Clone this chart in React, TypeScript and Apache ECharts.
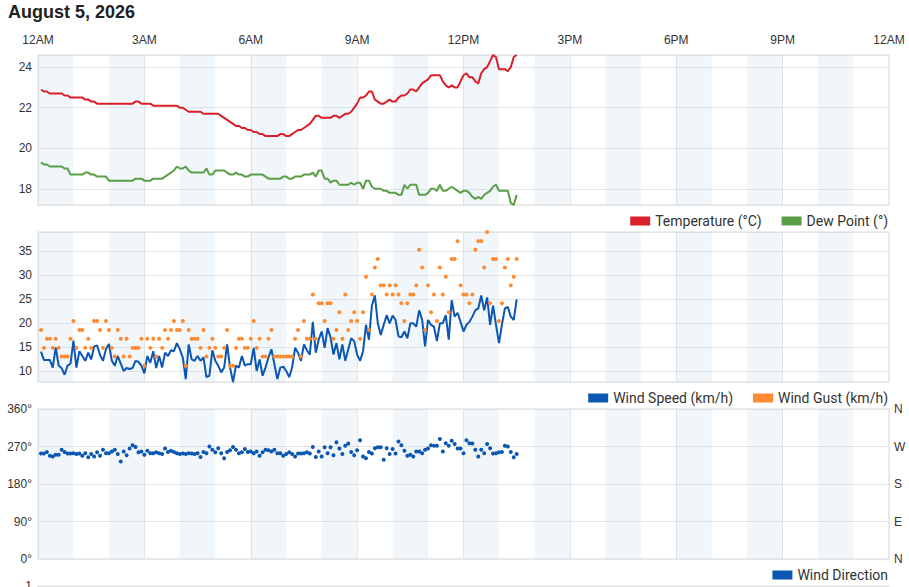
import { useEffect, useRef } from "react";
import * as echarts from "echarts";

const TITLE = "August 5, 2026";
const HOUR_LABELS = ["12AM", "3AM", "6AM", "9AM", "12PM", "3PM", "6PM", "9PM", "12AM"];
const SHADED_HOURS = [0, 2, 4, 6, 8, 10, 12, 14, 16, 18, 20, 22];
const FIRST_SAMPLE_MIN = 5;
const SAMPLE_STEP_MIN = 5;
const COMPASS_TICKS = [0, 90, 180, 270, 360];
const COMPASS_LABELS = ["N", "E", "S", "W", "N"];

const TEMPERATURE = [
  22.9, 22.8, 22.8, 22.7, 22.7, 22.7, 22.7, 22.7, 22.6, 22.6,
  22.5, 22.5, 22.5, 22.5, 22.5, 22.4, 22.4, 22.3, 22.3, 22.2,
  22.2, 22.2, 22.2, 22.2, 22.2, 22.2, 22.2, 22.2, 22.2, 22.2,
  22.2, 22.2, 22.3, 22.3, 22.2, 22.2, 22.2, 22.2, 22.1, 22.1,
  22.1, 22.1, 22.1, 22.1, 22.1, 22.1, 22.1, 22.0, 22.0, 21.9,
  21.8, 21.8, 21.8, 21.8, 21.8, 21.7, 21.7, 21.7, 21.7, 21.7,
  21.7, 21.6, 21.5, 21.4, 21.3, 21.2, 21.1, 21.1, 21.0, 21.0,
  20.9, 20.9, 20.8, 20.8, 20.7, 20.7, 20.6, 20.6, 20.6, 20.6,
  20.6, 20.7, 20.7, 20.6, 20.6, 20.7, 20.8, 20.9, 20.9, 21.0,
  21.1, 21.2, 21.4, 21.6, 21.6, 21.5, 21.5, 21.5, 21.5, 21.6,
  21.6, 21.5, 21.6, 21.7, 21.7, 21.8, 22.0, 22.2, 22.5, 22.5,
  22.6, 22.8, 22.8, 22.4, 22.3, 22.2, 22.2, 22.3, 22.4, 22.3,
  22.3, 22.5, 22.6, 22.6, 22.7, 22.9, 22.9, 22.8, 23.0, 23.2,
  23.3, 23.4, 23.6, 23.6, 23.6, 23.6, 23.3, 23.1, 23.0, 23.1,
  23.0, 23.0, 23.3, 23.6, 23.7, 23.5, 23.5, 23.3, 23.2, 23.7,
  23.9, 24.0, 24.3, 24.6, 24.5, 23.9, 23.9, 23.9, 23.8, 24.0,
  24.5, 24.6,
];

const DEW_POINT = [
  19.3, 19.2, 19.2, 19.1, 19.1, 19.1, 19.1, 19.1, 19.0, 19.0,
  18.7, 18.7, 18.7, 18.7, 18.7, 18.8, 18.8, 18.7, 18.7, 18.6,
  18.6, 18.6, 18.6, 18.4, 18.4, 18.4, 18.4, 18.4, 18.4, 18.4,
  18.4, 18.4, 18.5, 18.5, 18.5, 18.4, 18.4, 18.4, 18.5, 18.5,
  18.5, 18.5, 18.6, 18.7, 18.8, 18.9, 19.1, 19.0, 19.0, 19.1,
  18.9, 18.8, 18.8, 18.8, 18.8, 18.8, 19.0, 18.7, 18.7, 18.9,
  18.9, 18.9, 18.9, 18.8, 18.7, 18.7, 18.8, 18.7, 18.7, 18.6,
  18.6, 18.7, 18.7, 18.7, 18.7, 18.7, 18.6, 18.5, 18.5, 18.5,
  18.5, 18.5, 18.6, 18.6, 18.5, 18.5, 18.6, 18.6, 18.6, 18.7,
  18.7, 18.7, 18.8, 18.6, 18.9, 18.9, 18.5, 18.5, 18.3, 18.4,
  18.4, 18.2, 18.2, 18.2, 18.2, 18.3, 18.2, 18.3, 18.3, 18.0,
  18.4, 18.4, 18.1, 18.0, 18.0, 18.0, 17.9, 17.9, 17.8, 17.8,
  17.8, 17.7, 17.7, 18.2, 18.0, 18.2, 18.2, 18.2, 17.7, 17.7,
  17.7, 17.8, 18.0, 18.0, 17.9, 18.2, 17.9, 17.9, 18.0, 18.1,
  18.0, 17.9, 17.8, 17.9, 17.9, 17.8, 17.6, 17.5, 17.6, 17.5,
  17.7, 17.8, 17.9, 18.1, 18.2, 17.9, 17.9, 17.9, 17.9, 17.3,
  17.2, 17.7,
];

const WIND_SPEED = [
  14.0, 12.3, 12.3, 12.3, 10.7, 14.9, 11.1, 10.6, 9.2, 11.1,
  11.5, 16.3, 10.7, 14.1, 13.1, 12.1, 13.8, 12.4, 15.1, 15.3,
  13.3, 12.1, 14.5, 15.6, 12.1, 11.1, 13.1, 11.5, 10.0, 10.6,
  10.4, 10.6, 12.1, 11.9, 11.1, 9.5, 13.1, 11.7, 14.1, 10.6,
  13.1, 10.7, 13.8, 13.1, 14.3, 14.1, 15.8, 14.5, 12.8, 8.3,
  15.5, 12.4, 12.1, 13.1, 12.1, 12.8, 8.7, 9.0, 14.3, 12.1,
  11.1, 9.7, 10.7, 15.5, 10.7, 7.7, 11.1, 10.7, 13.1, 11.1,
  11.4, 11.4, 14.8, 10.0, 12.4, 9.0, 10.7, 12.8, 14.5, 11.4,
  8.3, 10.7, 10.9, 10.0, 8.7, 10.7, 14.8, 13.8, 12.1, 15.5,
  14.3, 13.4, 20.2, 13.8, 16.5, 18.2, 14.8, 18.9, 17.0, 13.4,
  15.8, 12.4, 15.5, 12.1, 14.5, 16.8, 16.2, 13.4, 12.1, 14.1,
  19.6, 16.5, 23.6, 25.7, 19.9, 17.5, 19.6, 21.6, 19.9, 21.5,
  20.6, 17.2, 17.0, 18.2, 16.8, 19.9, 19.9, 19.2, 22.6, 20.6,
  15.1, 20.6, 19.6, 19.2, 16.2, 19.9, 19.9, 21.6, 16.5, 24.7,
  21.3, 22.1, 20.2, 18.2, 19.6, 20.2, 21.3, 22.6, 23.0, 25.7,
  22.6, 25.3, 19.6, 23.6, 19.6, 15.8, 19.6, 23.0, 23.3, 21.3,
  20.6, 24.9,
];

const WIND_GUST = [
  18.5, 14.8, 16.7, 16.7, 14.8, 16.7, 14.8, 13.0, 13.0, 13.0,
  16.7, 20.4, 14.8, 18.5, 18.5, 14.8, 16.7, 14.8, 20.4, 20.4,
  18.5, 14.8, 20.4, 18.5, 14.8, 13.0, 18.5, 16.7, 13.0, 16.7,
  13.0, 14.8, 14.8, 14.8, 16.7, 11.1, 16.7, 14.8, 16.7, 13.0,
  16.7, 14.8, 18.5, 16.7, 18.5, 20.4, 18.5, 18.5, 20.4, 11.1,
  18.5, 16.7, 16.7, 16.7, 14.8, 18.5, 13.0, 14.8, 16.7, 14.8,
  13.0, 13.0, 14.8, 18.5, 11.1, 11.1, 14.8, 16.7, 16.7, 14.8,
  14.8, 16.7, 20.4, 14.8, 16.7, 13.0, 13.0, 16.7, 18.5, 13.0,
  13.0, 13.0, 13.0, 13.0, 13.0, 13.0, 16.7, 18.5, 13.0, 20.4,
  16.7, 16.7, 25.9, 16.7, 24.1, 24.1, 20.4, 24.1, 24.1, 16.7,
  18.5, 22.2, 16.7, 25.9, 18.5, 20.4, 22.2, 20.4, 16.7, 22.2,
  29.6, 18.5, 25.9, 31.5, 33.3, 27.8, 27.8, 25.9, 27.8, 25.9,
  27.8, 25.9, 24.1, 20.4, 24.1, 25.9, 25.9, 27.8, 35.2, 31.5,
  18.5, 27.8, 22.2, 25.9, 20.4, 31.5, 25.9, 29.6, 22.2, 33.3,
  33.3, 37.0, 27.8, 25.9, 25.9, 24.1, 25.9, 35.2, 37.0, 37.0,
  31.5, 38.9, 24.1, 33.3, 33.3, 20.4, 24.1, 31.5, 33.3, 27.8,
  29.6, 33.3,
];

const WIND_DIRECTION = [
  253, 253, 257, 248, 246, 250, 250, 262, 257, 253,
  253, 254, 252, 253, 248, 254, 244, 252, 246, 256,
  248, 262, 254, 254, 258, 262, 252, 234, 258, 249,
  265, 273, 269, 256, 258, 250, 260, 254, 254, 256,
  254, 252, 265, 257, 260, 257, 254, 252, 253, 252,
  254, 253, 252, 254, 245, 257, 254, 270, 262, 256,
  266, 254, 242, 257, 261, 269, 262, 254, 256, 264,
  257, 258, 254, 258, 248, 256, 262, 261, 258, 262,
  254, 254, 248, 252, 256, 252, 246, 253, 253, 254,
  256, 253, 269, 245, 258, 246, 268, 254, 268, 249,
  280, 265, 252, 272, 277, 257, 249, 261, 285, 246,
  242, 257, 253, 266, 268, 268, 238, 266, 252, 264,
  253, 282, 273, 260, 248, 250, 246, 258, 258, 254,
  262, 265, 273, 272, 272, 288, 258, 278, 272, 284,
  276, 265, 265, 254, 285, 278, 277, 262, 246, 262,
  254, 276, 266, 253, 254, 256, 257, 272, 270, 257,
  244, 252,
];

const AXIS_FONT = "'Liberation Sans', Arial, sans-serif";
const LEGEND_FONT = "Roboto, 'Liberation Sans', sans-serif";
const GRID_COLOR = "#e6e6e6";
const BAND_COLOR = "rgba(180,205,230,0.19)";

const toPairs = (vals: number[]) =>
  vals.map((v, i) => [(FIRST_SAMPLE_MIN + i * SAMPLE_STEP_MIN) / 60, v]);

export default function App() {
  const ref = useRef<HTMLDivElement>(null);

  useEffect(() => {
    if (!ref.current) return;
    const chart = echarts.init(ref.current, undefined, { renderer: "svg" });

    const tMin = Math.min(...TEMPERATURE, ...DEW_POINT);
    const tMax = Math.max(...TEMPERATURE, ...DEW_POINT);
    const wMin = Math.min(...WIND_SPEED, ...WIND_GUST);
    const wMax = Math.max(...WIND_SPEED, ...WIND_GUST);

    const grids = [
      { left: 38, right: 20, top: 55, height: 150 },
      { left: 38, right: 20, top: 232, height: 150 },
      { left: 38, right: 20, top: 409, height: 150 },
      { left: 38, right: 20, top: 586, height: 150 },
    ].map((g) => ({ ...g, show: true, borderColor: GRID_COLOR, borderWidth: 1.5, backgroundColor: "transparent" }));

    const xAxes = grids.map((_, k) => ({
      type: "value",
      gridIndex: k,
      min: 0,
      max: 24,
      interval: 3,
      position: "top",
      axisLine: { show: false },
      axisTick: { show: false },
      splitLine: { show: true, lineStyle: { color: GRID_COLOR, width: 1 } },
      axisLabel: {
        show: k === 0,
        margin: 9,
        color: "#333",
        fontSize: 12,
        fontFamily: AXIS_FONT,
        formatter: (v: number) => HOUR_LABELS[Math.round(v / 3)] ?? "",
      },
    }));

    const yLabel = { color: "#333", fontSize: 12, fontFamily: AXIS_FONT, margin: 6 };
    const ySplit = { show: true, lineStyle: { color: GRID_COLOR, width: 1 } };

    const yAxes = [
      {
        type: "value", gridIndex: 0, min: tMin, max: tMax, splitNumber: 4,
        axisLine: { show: false }, axisTick: { show: false }, splitLine: ySplit,
        axisLabel: { ...yLabel, showMinLabel: false, showMaxLabel: false },
      },
      {
        type: "value", gridIndex: 1, min: wMin, max: wMax, splitNumber: 5,
        axisLine: { show: false }, axisTick: { show: false }, splitLine: ySplit,
        axisLabel: { ...yLabel, showMinLabel: false, showMaxLabel: false },
      },
      {
        type: "value", gridIndex: 2, min: 0, max: 360, interval: 90,
        axisLine: { show: false }, axisTick: { show: false }, splitLine: ySplit,
        axisLabel: { ...yLabel, formatter: "{value}°" },
      },
      {
        type: "value", gridIndex: 2, min: 0, max: 360, interval: 90, position: "right",
        axisLine: { show: false }, axisTick: { show: false }, splitLine: { show: false },
        axisLabel: {
          ...yLabel, margin: 5,
          formatter: (v: number) => COMPASS_LABELS[COMPASS_TICKS.indexOf(v)] ?? "",
        },
      },
      {
        type: "value", gridIndex: 3, min: 0, max: 1, interval: 1,
        axisLine: { show: false }, axisTick: { show: false }, splitLine: ySplit,
        axisLabel: { ...yLabel },
      },
    ];

    const bandSeries = [0, 1, 2].map((k) => ({
      type: "line",
      name: "band" + k,
      xAxisIndex: k,
      yAxisIndex: k,
      data: [],
      silent: true,
      z: 1,
      markArea: {
        silent: true,
        itemStyle: { color: BAND_COLOR },
        data: SHADED_HOURS.map((h) => [{ xAxis: h }, { xAxis: h + 1 }]),
      },
    }));

    const legendText = { color: "#333", fontSize: 14, fontFamily: LEGEND_FONT, lineHeight: 14 };
    const legendBase = {
      right: 21, orient: "horizontal", icon: "rect", itemWidth: 20, itemHeight: 9,
      itemGap: 20, padding: 0, textStyle: legendText, selectedMode: false,
    };

    chart.setOption({
      animation: false,
      backgroundColor: "#fff",
      title: {
        text: TITLE, left: 8, top: 3, padding: 0,
        textStyle: { fontSize: 18, fontWeight: "bold", color: "#222", fontFamily: AXIS_FONT },
      },
      legend: [
        { ...legendBase, top: 214, data: ["Temperature (°C)", "Dew Point (°)"] },
        { ...legendBase, top: 391, data: ["Wind Speed (km/h)", "Wind Gust (km/h)"] },
        { ...legendBase, top: 568, data: ["Wind Direction"] },
      ],
      grid: grids,
      xAxis: xAxes,
      yAxis: yAxes,
      series: [
        ...bandSeries,
        {
          name: "Temperature (°C)", type: "line", xAxisIndex: 0, yAxisIndex: 0, z: 3,
          data: toPairs(TEMPERATURE), showSymbol: false, color: "#d9202a",
          lineStyle: { width: 2, color: "#d9202a" },
        },
        {
          name: "Dew Point (°)", type: "line", xAxisIndex: 0, yAxisIndex: 0, z: 3,
          data: toPairs(DEW_POINT), showSymbol: false, color: "#5a9e47",
          lineStyle: { width: 2, color: "#5a9e47" },
        },
        {
          name: "Wind Speed (km/h)", type: "line", xAxisIndex: 1, yAxisIndex: 1, z: 3,
          data: toPairs(WIND_SPEED), showSymbol: false, color: "#0b56b3",
          lineStyle: { width: 2, color: "#0b56b3" },
        },
        {
          name: "Wind Gust (km/h)", type: "scatter", xAxisIndex: 1, yAxisIndex: 1, z: 4,
          data: toPairs(WIND_GUST), symbolSize: 4, color: "#ff8a30",
          itemStyle: { color: "#ff8a30", opacity: 1 },
        },
        {
          name: "Wind Direction", type: "scatter", xAxisIndex: 2, yAxisIndex: 2, z: 3,
          data: toPairs(WIND_DIRECTION), symbolSize: 4, color: "#0b56b3",
          itemStyle: { color: "#0b56b3", opacity: 1 },
        },
      ],
    });

    return () => chart.dispose();
  }, []);

  return (
    <div
      ref={ref}
      style={{ position: "fixed", left: 0, top: 0, width: 909, height: 587, background: "#fff" }}
    />
  );
}
